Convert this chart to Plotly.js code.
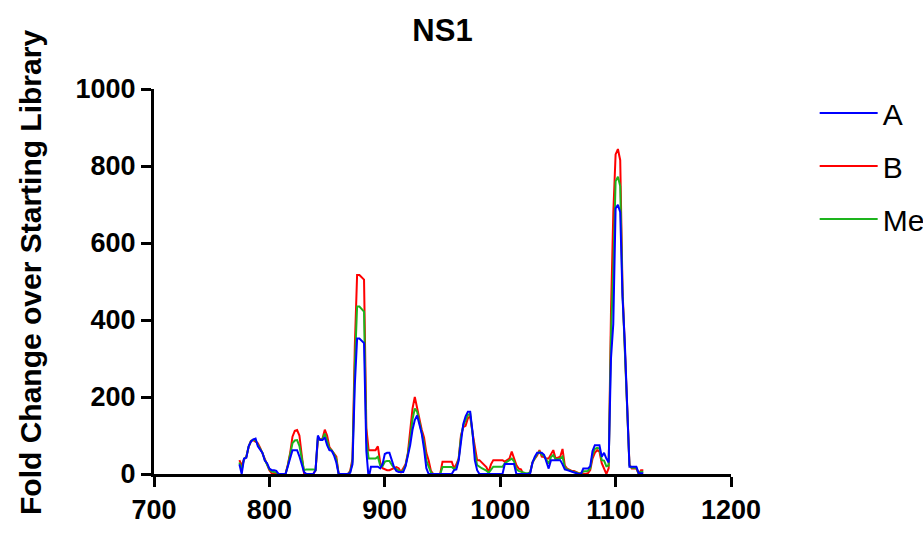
<!DOCTYPE html>
<html><head><meta charset="utf-8">
<script src="https://cdn.plot.ly/plotly-3.0.1.min.js"></script>
<style>html,body{margin:0;padding:0;background:#fff;overflow:hidden}#chart{width:923px;height:535px}</style>
</head><body><div id="chart"></div>
<script>
const positions = [
774,776,778,780,782,784,786,788,790,792,794,796,798,800,
802,804,806,808,810,812,814,816,818,820,822,824,826,828,830,832,834,836,838,840,
842,844,846,848,850,852,854,856,858,860,862,864,866,868,870,
872,874,876,878,880,882,884,886,888,890,892,894,896,898,900,902,904,906,908,910,912,914,916,
918,920,922,924,926,928,930,932,934,936,938,940,
942,944,946,948,950,952,954,956,958,960,962,
964,966,968,970,972,974,976,978,980,982,984,986,988,990,
992,994,996,998,1000,1002,1004,1006,1008,1010,1012,1014,1016,1018,1020,1022,1024,1026,
1028,1030,1032,1034,1036,1038,1040,1042,1044,1046,1048,1050,1052,1054,1056,1058,1060,1062,1064,1066,1068,1070,
1072,1074,1076,1078,1080,1082,1084,1086,1088,1090,1092,1094,
1096,1098,1100,1102,1104,1106,1108,1110,1112,1114,1116,1118,1120,1122,1124];

const seriesA = [
25,0,40,42,72,84,90,92,72,62,55,35,28,14,
10,10,8,0,0,0,0,20,45,62,62,62,46,28,5,0,0,0,0,10,
100,88,88,95,75,62,60,48,30,0,0,0,0,0,3,
25,230,352,352,345,340,60,-12,19,19,19,19,15,25,52,55,55,35,18,8,5,5,5,
20,50,75,115,140,152,125,105,65,15,0,0,
0,0,0,0,0,0,0,0,0,10,12,
35,90,130,150,162,162,110,36,10,0,0,0,0,0,
0,0,0,0,0,0,26,26,26,26,26,0,0,0,0,0,0,2,
30,45,55,55,55,50,30,14,36,36,36,36,36,25,12,10,8,5,3,2,0,0,
14,14,14,20,60,75,75,75,45,55,40,30,
300,390,690,699,680,460,340,200,19,19,19,19,2,2,2];

const seriesB = [
36,22,38,45,70,86,88,85,80,68,55,40,25,10,
2,0,0,0,0,0,0,25,55,97,112,114,100,50,2,0,0,0,0,10,
90,90,92,115,100,70,62,56,45,0,0,0,0,0,8,
40,330,517,517,512,505,120,62,62,62,62,72,30,15,12,10,10,12,15,18,15,5,15,
25,55,105,170,200,172,140,115,95,55,35,8,
0,0,0,0,32,32,32,32,32,15,25,
40,100,122,125,145,150,108,72,36,36,30,25,18,5,
25,36,36,36,36,36,32,36,40,58,40,23,14,12,0,0,0,5,
30,40,48,62,45,44,40,40,52,62,40,42,45,65,22,14,10,8,8,5,2,2,
0,0,2,10,40,55,62,58,28,15,0,15,
420,677,830,844,815,480,330,150,25,14,14,14,0,10,10];

const seriesMean = [
30,11,39,44,71,85,89,88,76,65,55,37,26,12,
6,5,4,0,0,0,0,22,50,80,87,88,73,39,10,12,12,12,12,10,
95,89,90,105,88,66,61,52,38,0,0,0,0,0,5,
32,280,435,435,428,422,90,40,40,40,40,45,22,20,32,34,34,24,16,13,10,5,10,
22,52,90,142,170,162,132,110,80,35,18,4,
0,0,0,0,18,18,18,18,18,13,18,
38,95,126,138,154,156,109,54,23,18,15,12,9,3,
12,19,19,19,19,19,28,32,35,40,33,12,8,6,2,2,2,4,
30,42,52,58,50,47,35,27,44,49,38,39,40,45,17,12,9,7,5,4,1,1,
7,7,8,15,50,65,68,66,36,35,20,22,
360,533,760,772,748,470,335,175,22,16,16,16,1,6,6];

const seriesNames = ['A', 'B', 'Me'];
const xTickVals = [700, 800, 900, 1000, 1100, 1200];
const yTickVals = [0, 200, 400, 600, 800, 1000];
const chartTitle = 'NS1';
const yTitle = 'Fold Change over Starting Library';

const FONT = 'Arial, "Liberation Sans", sans-serif';

function trace(y, name, color, rank) {
  return {
    x: positions, y: y, name: name, type: 'scatter', mode: 'lines',
    line: {color: color, width: 2},
    legendgroup: name, legendrank: rank, hoverinfo: 'skip'
  };
}

const data = [
  trace(seriesB, seriesNames[1], '#FF0000', 2),
  trace(seriesMean, seriesNames[2], '#1DB41D', 3),
  trace(seriesA, seriesNames[0], '#0000FF', 1)
];

const axisCommon = {
  showline: true, linecolor: '#000', linewidth: 3,
  ticks: 'outside', ticklen: 10, tickwidth: 3, tickcolor: '#000',
  showgrid: false, zeroline: false, fixedrange: true,
  tickfont: {family: FONT, size: 27, color: '#000', weight: 700}
};

const layout = {
  width: 923, height: 535,
  margin: {l: 154, r: 192, t: 89, b: 61, autoexpand: false},
  paper_bgcolor: '#fff', plot_bgcolor: '#fff',
  font: {family: FONT, color: '#000'},
  title: {text: chartTitle, font: {family: FONT, size: 31, weight: 700, color: '#000'},
          x: 0.5, xref: 'paper', y: 1 - 30/535, yref: 'container', yanchor: 'middle'},
  xaxis: Object.assign({}, axisCommon, {range: [700, 1200], tickvals: xTickVals, ticktext: xTickVals.map(String)}),
  yaxis: Object.assign({}, axisCommon, {range: [0, 1000], tickvals: yTickVals, ticktext: yTickVals.map(String)}),
  annotations: [{
    text: yTitle, textangle: -90, showarrow: false,
    xref: 'paper', yref: 'paper', x: (30 - 154) / 577, y: (474 - 273) / 385,
    xanchor: 'center', yanchor: 'middle',
    font: {family: FONT, size: 30, weight: 700, color: '#000'}
  }],
  showlegend: true,
  legend: {x: 1.145, xanchor: 'left', y: 1.005, yanchor: 'top', traceorder: 'grouped',
           tracegroupgap: 11, itemwidth: 58, bgcolor: 'rgba(0,0,0,0)',
           font: {family: FONT, size: 30, color: '#000'}}
};

Plotly.newPlot('chart', data, layout, {staticPlot: true, displayModeBar: false});
</script>
</body></html>
